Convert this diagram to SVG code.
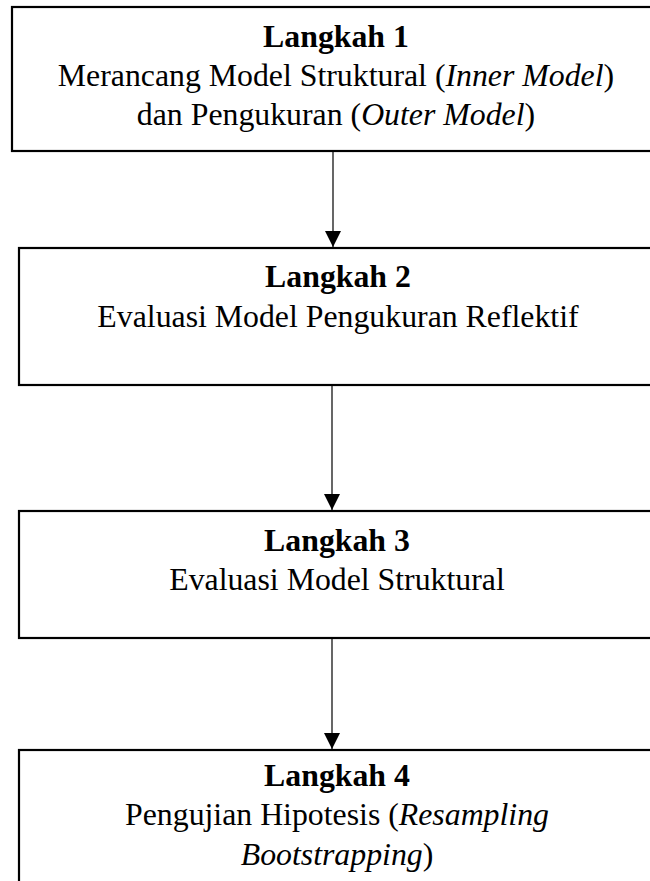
<svg xmlns="http://www.w3.org/2000/svg" width="650" height="881" viewBox="0 0 650 881">
<defs>
<style>
.box{fill:#fff;stroke:#000;stroke-width:2.2}
.t{font-family:"Liberation Serif","Times New Roman",serif;font-size:31.8px;fill:#000;text-anchor:middle}
.b{font-weight:bold}
.i{font-style:italic}
.c{stroke:#000;stroke-width:1.2;fill:none}
</style>
<marker id="ah" markerUnits="userSpaceOnUse" markerWidth="16" markerHeight="17" refX="16" refY="8" orient="auto">
<path d="M0,0 L16,8 L0,16 Z" fill="#000"/>
</marker>
</defs>
<rect width="650" height="881" fill="#fff"/>
<g id="connectors">
<line class="c" x1="333" y1="151" x2="333" y2="247" marker-end="url(#ah)"/>
<line class="c" x1="332" y1="386" x2="332" y2="510" marker-end="url(#ah)"/>
<line class="c" x1="332" y1="638" x2="332" y2="749" marker-end="url(#ah)"/>
</g>
<g id="step1">
<rect class="box" x="12" y="7" width="652" height="144"/>
<text class="t b" x="336" y="47">Langkah 1</text>
<text class="t" x="336" y="86">Merancang Model Struktural (<tspan class="i">Inner Model</tspan>)</text>
<text class="t" x="336" y="125">dan Pengukuran (<tspan class="i">Outer Model</tspan>)</text>
</g>
<g id="step2">
<rect class="box" x="19" y="248" width="640" height="137"/>
<text class="t b" x="338" y="287">Langkah 2</text>
<text class="t" x="338" y="327">Evaluasi Model Pengukuran Reflektif</text>
</g>
<g id="step3">
<rect class="box" x="19" y="511" width="640" height="127"/>
<text class="t b" x="337" y="551">Langkah 3</text>
<text class="t" x="337" y="590">Evaluasi Model Struktural</text>
</g>
<g id="step4">
<rect class="box" x="19" y="750" width="640" height="150"/>
<text class="t b" x="337" y="786">Langkah 4</text>
<text class="t" x="337" y="825">Pengujian Hipotesis (<tspan class="i">Resampling</tspan></text>
<text class="t i" x="337" y="865">Bootstrapping<tspan font-style="normal">)</tspan></text>
</g>
</svg>
